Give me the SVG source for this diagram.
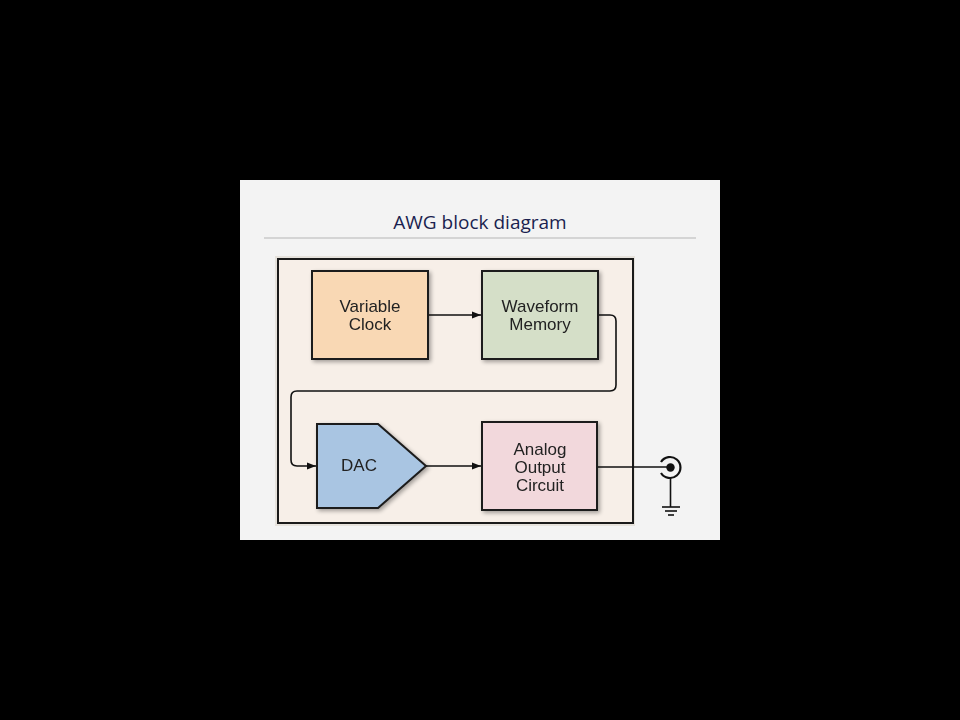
<svg xmlns="http://www.w3.org/2000/svg" width="960" height="720" viewBox="0 0 960 720">
<defs>
<style>
.blk{stroke:#1a1a1a;stroke-width:2}
.lbl{font-family:"Liberation Sans",Arial,sans-serif;font-size:17px;fill:#222;text-anchor:middle}
.wire{fill:none;stroke:#111;stroke-width:1.6}
</style>
<filter id="sh" x="-10%" y="-10%" width="130%" height="130%">
<feGaussianBlur in="SourceAlpha" stdDeviation="2"/>
<feOffset dx="2" dy="2"/>
<feComponentTransfer><feFuncA type="linear" slope="0.35"/></feComponentTransfer>
<feMerge><feMergeNode/><feMergeNode in="SourceGraphic"/></feMerge>
</filter>
<marker id="ar" viewBox="0 0 10 10" refX="10" refY="5" markerWidth="9" markerHeight="9" markerUnits="userSpaceOnUse" orient="auto">
<path d="M0,1 L10,5 L0,9 z" fill="#111"/>
</marker>
</defs>
<rect width="960" height="720" fill="#000"/>
<rect x="240" y="180" width="480" height="360" fill="#f3f3f3"/>
<text x="480" y="229" font-family="'Open Sans','Liberation Sans',sans-serif" font-size="19" fill="#1a1f4f" text-anchor="middle">AWG block diagram</text>
<line x1="264" y1="238" x2="696" y2="238" stroke="#d4d4d4" stroke-width="2"/>
<g id="frame">
<rect x="275" y="256" width="360" height="270" fill="#e6e2dc"/>
<rect x="278" y="259" width="355" height="264" fill="#f7efe8" stroke="#1a1a1a" stroke-width="2"/>
</g>
<g id="connectors">
<line class="wire" x1="428" y1="315" x2="481" y2="315" marker-end="url(#ar)"/>
<path class="wire" d="M598,315 H610 Q616,315 616,321 V385 Q616,391 610,391 H297 Q291,391 291,397 V460 Q291,466 297,466 H316" marker-end="url(#ar)"/>
<line class="wire" x1="426" y1="466" x2="481" y2="466" marker-end="url(#ar)"/>
<line class="wire" x1="597" y1="467" x2="670" y2="467"/>
</g>
<g id="variable-clock" filter="url(#sh)">
<rect class="blk" x="312" y="271" width="116" height="88" fill="#f9d8b4"/>
<text class="lbl" x="370" y="312">Variable</text>
<text class="lbl" x="370" y="330">Clock</text>
</g>
<g id="waveform-memory" filter="url(#sh)">
<rect class="blk" x="482" y="271" width="116" height="88" fill="#d5dfc8"/>
<text class="lbl" x="540" y="312">Waveform</text>
<text class="lbl" x="540" y="330">Memory</text>
</g>
<g id="dac" filter="url(#sh)">
<path class="blk" d="M317,424 H378 L426,466 L378,508 H317 Z" fill="#a9c5e2"/>
<text class="lbl" x="359" y="471">DAC</text>
</g>
<g id="analog-output" filter="url(#sh)">
<rect class="blk" x="482" y="422" width="115" height="88" fill="#f2d8dc"/>
<text class="lbl" x="540" y="455">Analog</text>
<text class="lbl" x="540" y="473">Output</text>
<text class="lbl" x="540" y="491">Circuit</text>
</g>
<g id="output-connector">
<path d="M661,462 A10.5,10.5 0 1 1 661,473" fill="none" stroke="#111" stroke-width="2.2"/>
<circle cx="670.5" cy="467.5" r="4.2" fill="#111"/>
<line x1="670.5" y1="478" x2="670.5" y2="507" stroke="#111" stroke-width="1.6"/>
<line x1="662" y1="507" x2="680" y2="507" stroke="#111" stroke-width="1.6"/>
<line x1="665" y1="511" x2="677" y2="511" stroke="#111" stroke-width="1.6"/>
<line x1="668" y1="515" x2="674" y2="515" stroke="#111" stroke-width="1.6"/>
</g>
</svg>
